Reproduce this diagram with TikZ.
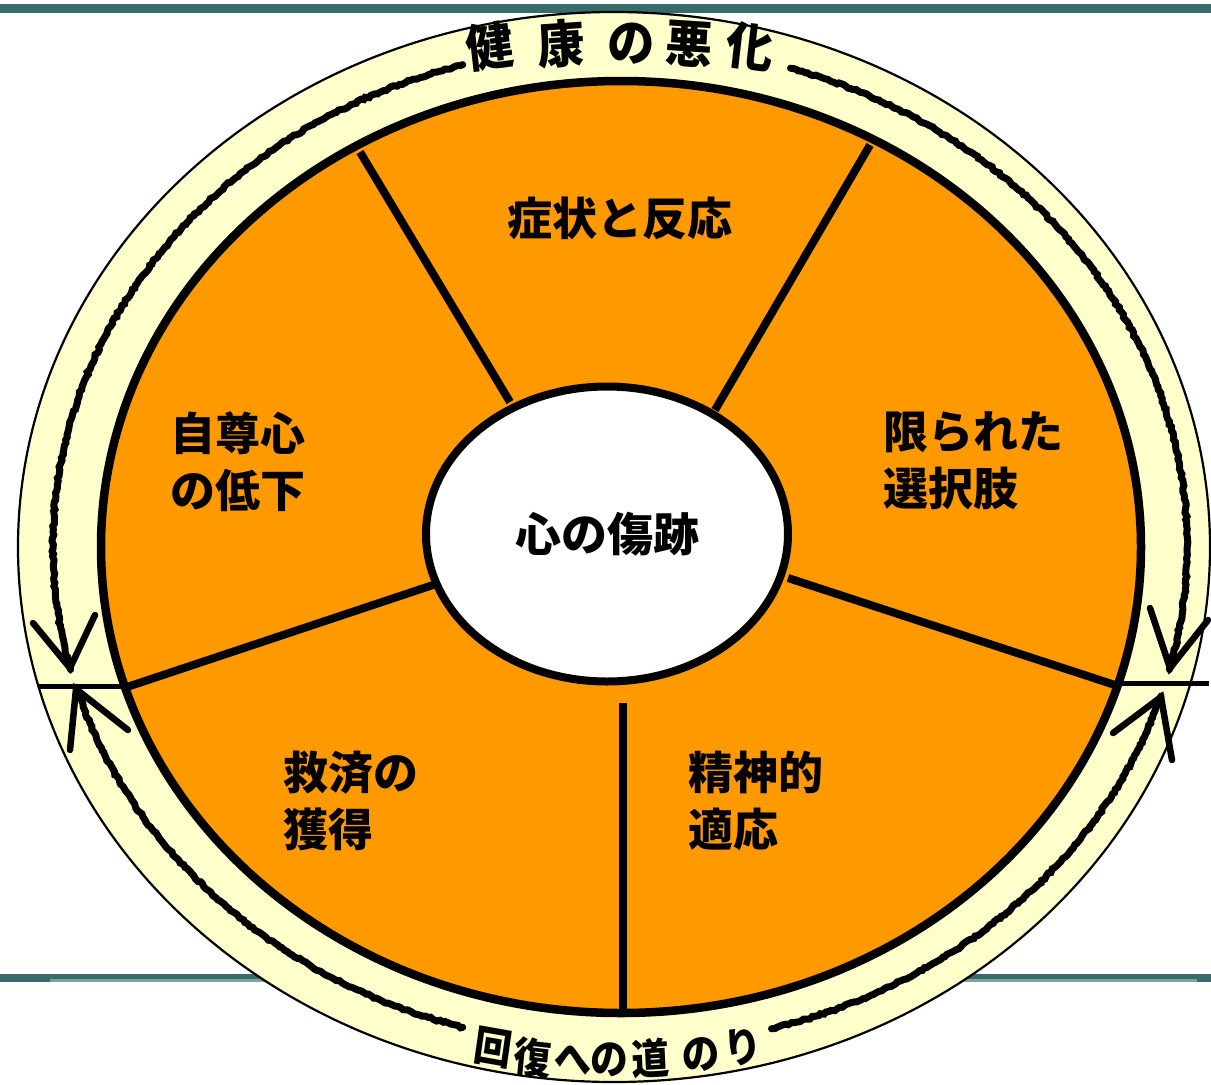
\documentclass[tikz,border=0pt]{standalone}
\usepackage{fontspec}
\newfontfamily\jp{Noto Sans CJK JP}
\usetikzlibrary{shapes.geometric,decorations.pathmorphing}
\definecolor{ringfill}{HTML}{FFFFCC}
\definecolor{segorange}{HTML}{FF9900}
\definecolor{barteal}{HTML}{386B6B}
\definecolor{barlight}{HTML}{7FA3A3}
\begin{document}
\begin{tikzpicture}[x=1pt,y=-1pt,
  seglabel/.style={font=\jp\bfseries\fontsize{45}{57}\selectfont, align=left, inner sep=0pt, anchor=west},
  toptxt/.style={font=\jp\bfseries\fontsize{51}{51}\selectfont, inner sep=0pt, xscale=0.93},
  bottxt/.style={font=\jp\bfseries\fontsize{42}{42}\selectfont, inner sep=0pt, xscale=0.9},
  divider/.style={line width=8pt},
  arrowline/.style={line width=7pt, line cap=round, decorate, decoration={random steps, segment length=3pt, amplitude=1pt}},
  armline/.style={line width=6.5pt, line cap=round},
  ringsep/.style={line width=5pt}
]
\pgfmathsetseed{7}
\useasboundingbox (0,0) rectangle (1211,1085);
\fill[white] (0,0) rectangle (1211,1085);
% teal bars
\fill[barteal] (0,4) rectangle (1211,12.5);
\fill[barteal] (0,974) rectangle (1211,978.5);
\fill[barlight] (50,978.5) rectangle (1197,982);
\fill[barteal] (0,978.5) rectangle (50,982);
\fill[barteal] (1197,978.5) rectangle (1211,982);
% outer ring
\draw[line width=2.2pt, fill=ringfill] (614,547) ellipse [x radius=596, y radius=535];
% orange disc
\draw[line width=8.5pt, fill=segorange] (621,547) ellipse [x radius=520, y radius=466];
% dividers
\draw[divider] (360,152) -- (510,402);
\draw[divider] (870,145) -- (715,410);
\draw[divider] (127,687) -- (433,585);
\draw[divider] (788,578) -- (1118,686);
\draw[divider] (623,703) -- (623,1013);
% centre
\node[draw, line width=8pt, fill=white, ellipse, inner sep=0pt, minimum width=362pt, minimum height=295pt,
      font=\jp\bfseries\fontsize{46}{46}\selectfont] (core) at (607,534) {心の傷跡};
% segment labels
\node[seglabel, anchor=center] (s1) at (620,218) {症状と反応};
\node[seglabel] (s2) at (170,462) {自尊心\\の低下};
\node[seglabel] (s3) at (883,461) {限られた\\選択肢};
\node[seglabel] (s4) at (283,801) {救済の\\獲得};
\node[seglabel] (s5) at (688,801) {精神的\\適応};
% ring texts
\foreach \c/\x/\y/\r in {健/490/46/7, 康/561/44/3.5, の/631/44/0, 悪/689/44/-3.5, 化/750/47/-7}
  \node[toptxt, rotate=\r, name=top\x] at (\x,\y) {\c};
\foreach \c/\x/\y/\r in {回/493/1048/-9, 復/533/1058/-6, へ/573/1060/-3, の/609/1060/0, 道/651/1058/3, の/701/1055/6, り/743/1047/9}
  \node[bottxt, rotate=\r, name=bot\x] at (\x,\y) {\c};
% arrows
\coordinate (tlTip) at (70,668);
\coordinate (trTip) at (1170,668);
\coordinate (blTip) at (76,689);
\coordinate (brTip) at (1161,697);
\draw[arrowline] (620,546) ++(253.9:567 and 501) arc[start angle=253.9, end angle=165.9, x radius=567, y radius=501];
\draw[arrowline] (620,546) ++(-72.5:567 and 501) arc[start angle=-72.5, end angle=14.1, x radius=567, y radius=501];
\draw[arrowline] (620,546) ++(106.1:567 and 501) arc[start angle=106.1, end angle=163.5, x radius=567, y radius=501];
\draw[arrowline] (620,546) ++(74.5:567 and 501) arc[start angle=74.5, end angle=17.5, x radius=567, y radius=501];
\draw[armline] (33,623) -- (tlTip) -- (95,615);
\draw[armline] (1150,608) -- (trTip) -- (1208,620);
\draw[armline] (70,750) -- (blTip) -- (128,730);
\draw[armline] (1113,733) -- (brTip) -- (1172,760);
% ring separators
\draw[ringsep] (38,686) -- (127,686);
\draw[ringsep] (1118,683) -- (1209,683);
\end{tikzpicture}
\end{document}
